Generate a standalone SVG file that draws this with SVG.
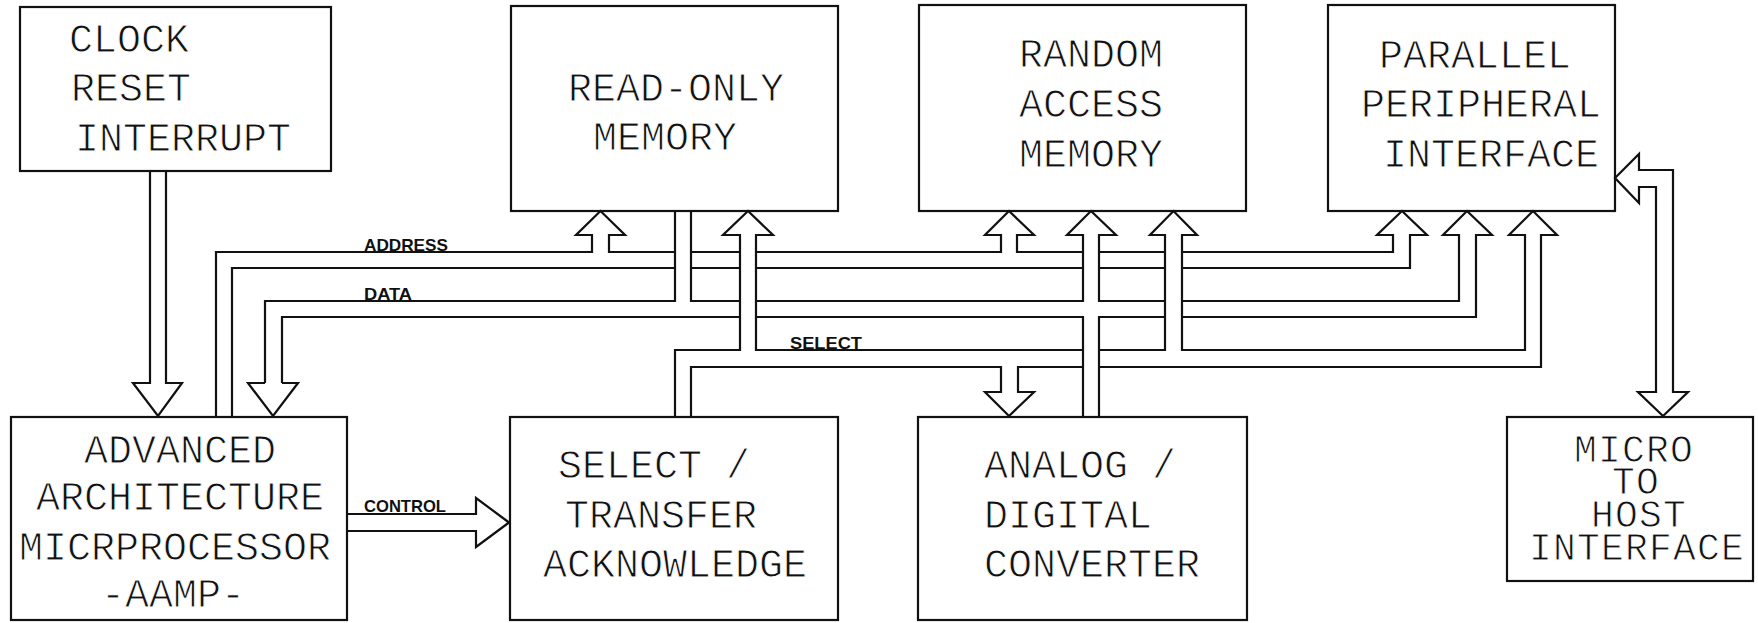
<svg xmlns="http://www.w3.org/2000/svg" width="1758" height="623" viewBox="0 0 1758 623">
<style>
.box{fill:none;stroke:#111;stroke-width:2.2}
.ln{fill:none;stroke:#111;stroke-width:2.2;stroke-linejoin:miter}
.t{font-family:"Liberation Mono","DejaVu Sans Mono",monospace;font-size:40px;fill:#111;stroke:#fff;stroke-width:0.9}
.tm{font-family:"Liberation Mono","DejaVu Sans Mono",monospace;font-size:38px;letter-spacing:1.2px;fill:#111;stroke:#fff;stroke-width:0.9}
.lb{font-family:"Liberation Sans",Arial,sans-serif;font-size:17px;font-weight:bold;fill:#111}
</style>
<rect width="1758" height="623" fill="#fff"/>
<g id="clock">
<rect class="box" x="20" y="7" width="311" height="164"/>
<text class="t" x="69" y="52">CLOCK</text>
<text class="t" x="71" y="101">RESET</text>
<text class="t" x="75" y="151">INTERRUPT</text>
</g>
<g id="rom">
<rect class="box" x="511" y="6" width="327" height="205"/>
<text class="t" x="568" y="101">READ-ONLY</text>
<text class="t" x="593" y="150">MEMORY</text>
</g>
<g id="ram">
<rect class="box" x="919" y="5" width="327" height="206"/>
<text class="t" x="1019" y="67">RANDOM</text>
<text class="t" x="1019" y="117">ACCESS</text>
<text class="t" x="1019" y="167">MEMORY</text>
</g>
<g id="ppi">
<rect class="box" x="1328" y="5" width="287" height="206"/>
<text class="t" x="1379" y="68">PARALLEL</text>
<text class="t" x="1361" y="117">PERIPHERAL</text>
<text class="t" x="1383" y="167">INTERFACE</text>
</g>
<g id="aamp">
<rect class="box" x="11" y="417" width="336" height="203"/>
<text class="t" x="84" y="463">ADVANCED</text>
<text class="t" x="36" y="510">ARCHITECTURE</text>
<text class="t" x="19" y="560">MICRPROCESSOR</text>
<text class="t" x="101" y="607">-AAMP-</text>
</g>
<g id="sta">
<rect class="box" x="510" y="417" width="328" height="203"/>
<text class="t" x="558" y="478">SELECT /</text>
<text class="t" x="565" y="528">TRANSFER</text>
<text class="t" x="543" y="577">ACKNOWLEDGE</text>
</g>
<g id="adc">
<rect class="box" x="918" y="417" width="329" height="203"/>
<text class="t" x="984" y="478">ANALOG /</text>
<text class="t" x="984" y="528">DIGITAL</text>
<text class="t" x="984" y="577">CONVERTER</text>
</g>
<g id="micro">
<rect class="box" x="1507" y="417" width="246" height="164"/>
<text class="tm" x="1574" y="462">MICRO</text>
<text class="tm" x="1612" y="494">TO</text>
<text class="tm" x="1591" y="527">HOST</text>
<text class="tm" x="1529" y="560">INTERFACE</text>
</g>
<g id="connectors">
<path class="ln" d="M150,171 V383 H133 L158,416 L182,383 H166 V171"/>
<path class="ln" d="M347,514 H476 V498 L509,522.5 L476,547 V531 H347"/>
<path class="ln" d="M216,417 V252 H592 V235 H576 L600.5,211 L625,235 H609 V252 H675"/>
<path class="ln" d="M691,252 H740"/>
<path class="ln" d="M756,252 H1001 V235 H985 L1009,211 L1034,235 H1017 V252 H1083"/>
<path class="ln" d="M1099,252 H1165"/>
<path class="ln" d="M1182,252 H1393 V235 H1377 L1402,211 L1427,235 H1410 V268 H1182"/>
<path class="ln" d="M232,417 V268 H675"/>
<path class="ln" d="M691,268 H740"/>
<path class="ln" d="M756,268 H1083"/>
<path class="ln" d="M1099,268 H1165"/>
<path class="ln" d="M265,383 V301 H675 V211"/>
<path class="ln" d="M691,211 V301 H740"/>
<path class="ln" d="M756,301 H1083 V235 H1067 L1091,211 L1116,235 H1099 V301 H1165"/>
<path class="ln" d="M1182,301 H1459 V235 H1443 L1467,211 L1492,235 H1476 V317 H1182"/>
<path class="ln" d="M282,383 V317 H740"/>
<path class="ln" d="M756,317 H1083 V417"/>
<path class="ln" d="M1099,417 V317 H1165"/>
<path class="ln" d="M265,383 H248 L273,416 L298,383 H282"/>
<path class="ln" d="M675,417 V350 H740 V235 H723 L748,211 L773,235 H756 V350 H1083"/>
<path class="ln" d="M1099,350 H1165 V235 H1150 L1173.5,211 L1197,235 H1182 V350 H1525 V235 H1509 L1533,211 L1557,235 H1541 V367 H1099"/>
<path class="ln" d="M1083,367 H1018 V392 H1034 L1009,416 L985,392 H1001 V367 H691 V417"/>
<path class="ln" d="M1673,392 V170 H1639 V154 L1615,178 L1639,203 V187 H1656 V392 H1638 L1663,416 L1688,392 Z"/>
<text class="lb" x="364" y="251" textLength="84" lengthAdjust="spacingAndGlyphs">ADDRESS</text>
<text class="lb" x="364" y="300" textLength="48" lengthAdjust="spacingAndGlyphs">DATA</text>
<text class="lb" x="790" y="349" textLength="72" lengthAdjust="spacingAndGlyphs">SELECT</text>
<text class="lb" x="364" y="512" textLength="82" lengthAdjust="spacingAndGlyphs">CONTROL</text>
</g>
</svg>
